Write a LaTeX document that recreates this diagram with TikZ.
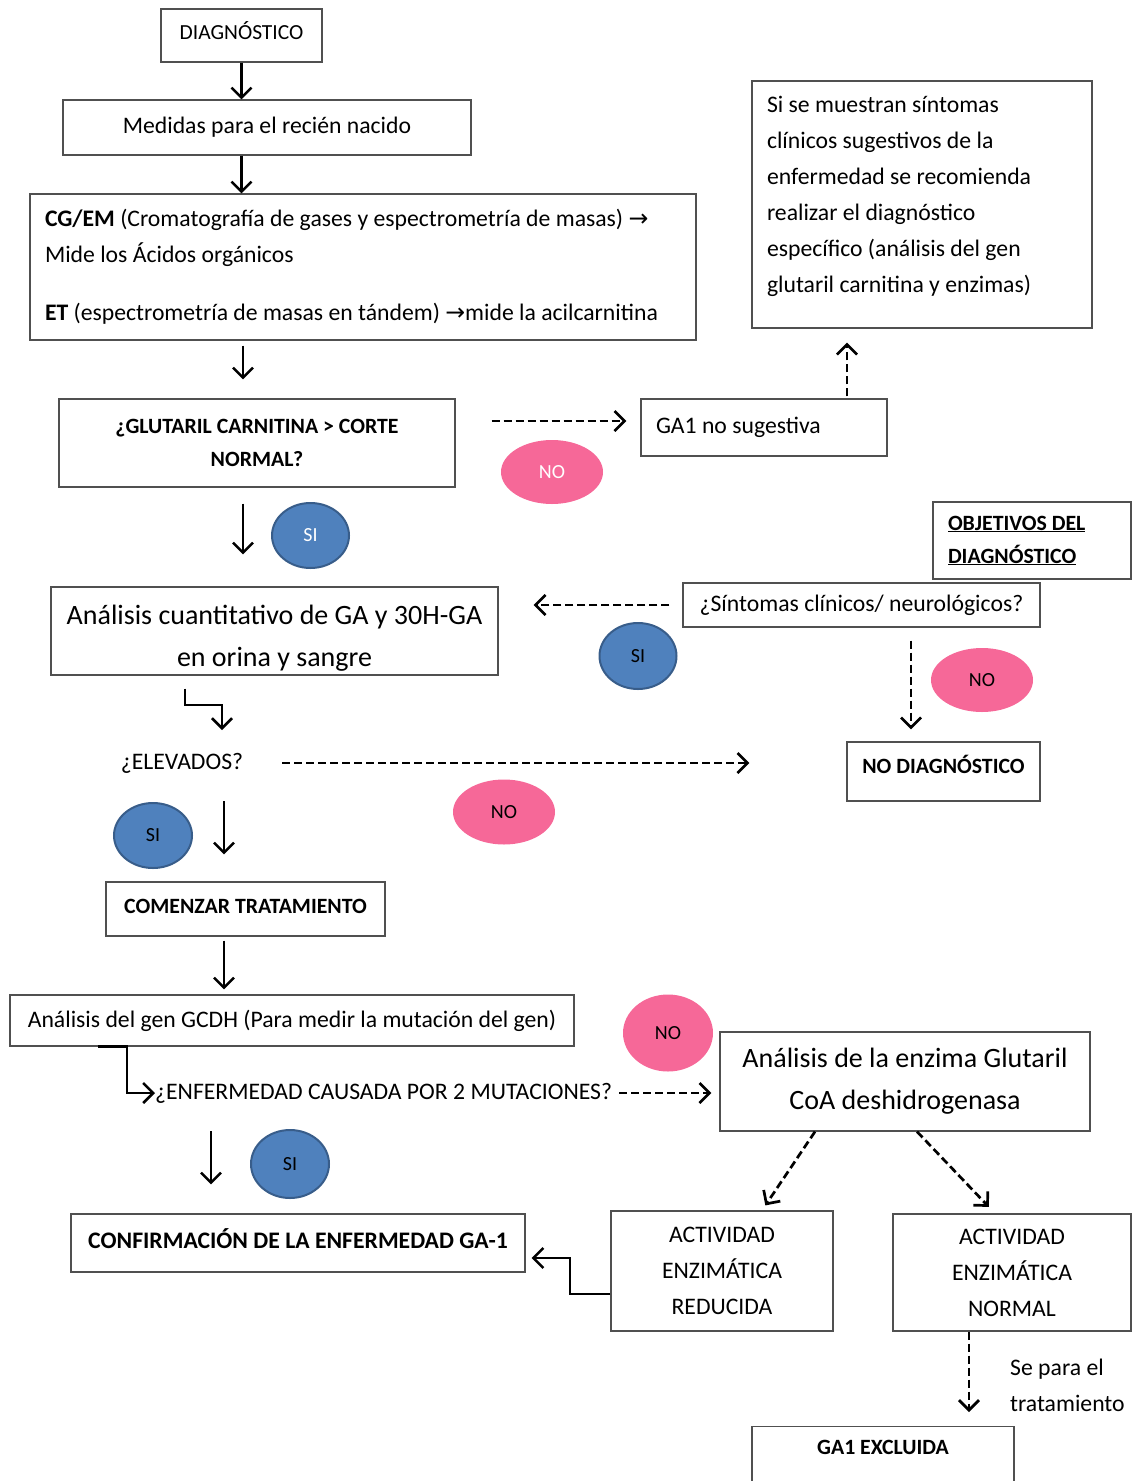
\documentclass[tikz,border=0pt]{standalone}
\usepackage{fontspec}
\setmainfont{Carlito}
\newfontfamily\arrowfont{DejaVu Sans}
\usetikzlibrary{arrows.meta,shapes.geometric}
\definecolor{siblue}{RGB}{79,129,189}
\definecolor{siedge}{RGB}{56,93,138}
\definecolor{nopink}{RGB}{246,104,152}
\definecolor{boxgray}{RGB}{80,80,80}
\begin{document}
\begin{tikzpicture}[x=1pt,y=-1pt,
  box/.style={draw=boxgray,line width=1.2pt,inner sep=0pt,align=center},
  lbox/.style={box,align=flush left,inner xsep=15pt},
  txt/.style={font=\fontsize{23.7}{36}\selectfont},
  small/.style={font=\fontsize{21.8}{33}\selectfont\bfseries},
  big/.style={font=\fontsize{28}{42}\selectfont},
  flow/.style={line width=2.5pt,-{Straight Barb[length=10pt,width=20pt]}},
  dflow/.style={flow,line width=2.7pt,dash pattern=on 8pt off 4pt},
  ball/.style={ellipse,inner sep=0pt,font=\fontsize{20}{20}\selectfont},
  siball/.style={ball,fill=siblue,draw=siedge,line width=2pt},
  noball/.style={ball,fill=nopink}]
\useasboundingbox (0,0) rectangle (1134,1481);

% upper column
\node[box,font=\fontsize{21.5}{33}\selectfont,minimum width=161pt,minimum height=53pt,text depth=10pt] (diag) at (241.5,35.5) {DIAGNÓSTICO};
\node[box,txt,minimum width=408pt,minimum height=55pt] (medidas) at (267,127.5) {Medidas para el recién nacido};
\node[lbox,txt,text width=636pt,minimum height=146pt] (cgem) at (363,267)
  {\textbf{CG/EM} (Cromatografía de gases y espectrometría de masas) {\arrowfont →}\\
   Mide los Ácidos orgánicos\\[22pt]
   \textbf{ET} (espectrometría de masas en tándem) {\arrowfont →}mide la acilcarnitina};
\node[box,small,minimum width=396pt,minimum height=88pt] (glut) at (257,443) {¿GLUTARIL CARNITINA > CORTE\\NORMAL?};
\node[lbox,txt,text width=216pt,minimum height=57pt] (gano) at (764,427.5) {GA1 no sugestiva};
\node[lbox,txt,text width=310pt,minimum height=247pt,text depth=201pt] (sintom) at (922,204.5)
  {Si se muestran síntomas\\clínicos sugestivos de la\\enfermedad se recomienda\\realizar el diagnóstico\\específico (análisis del gen\\glutaril carnitina y enzimas)};

\node[noball,text=white,minimum width=102pt,minimum height=64pt] (noA) at (552,472) {NO};
\node[siball,text=white,minimum width=77pt,minimum height=65pt] (siA) at (310.5,535.5) {SI};

% middle part
\node[lbox,small,text width=168pt,minimum height=77pt] (objet) at (1032,540.5) {\underline{OBJETIVOS DEL}\\\underline{DIAGNÓSTICO}};
\node[box,txt,minimum width=357pt,minimum height=44pt] (sint) at (861.5,605) {¿Síntomas clínicos/ neurológicos?};
\node[box,big,minimum width=447pt,minimum height=88pt] (cuant) at (274.5,631) {\rule{0pt}{33pt}Análisis cuantitativo de GA y 30H-GA\\en orina y sangre};
\node[siball,minimum width=77pt,minimum height=66pt] (siB) at (638,656) {SI};
\node[noball,minimum width=102pt,minimum height=64pt] (noB) at (982,680) {NO};
\node[box,small,minimum width=193pt,minimum height=59pt,text depth=14pt] (nodiag) at (943.5,771.5) {NO DIAGNÓSTICO};
\node[txt,inner sep=0pt] (elev) at (182,763) {¿ELEVADOS?};
\node[noball,minimum width=102pt,minimum height=65pt] (noC) at (504,812) {NO};
\node[siball,minimum width=78pt,minimum height=65pt] (siC) at (153,835.5) {SI};
\node[box,small,minimum width=279pt,minimum height=54pt,text depth=6pt] (comenz) at (245.5,909) {COMENZAR TRATAMIENTO};

% lower part
\node[box,txt,minimum width=564pt,minimum height=51pt] (gen) at (292,1020.5) {Análisis del gen GCDH (Para medir la mutación del gen)};
\node[txt,inner sep=0pt,anchor=west] (enferm) at (155,1093) {¿ENFERMEDAD CAUSADA POR 2 MUTACIONES?};
\node[noball,minimum width=90pt,minimum height=77pt] (noD) at (668,1033) {NO};
\node[box,big,minimum width=370pt,minimum height=99pt] (enzima) at (905,1081.5) {Análisis de la enzima Glutaril\\CoA deshidrogenasa};
\node[siball,minimum width=78pt,minimum height=68pt] (siD) at (290,1164) {SI};
\node[box,small,font=\fontsize{23.7}{33}\selectfont\bfseries,minimum width=454pt,minimum height=58pt,text depth=8pt] (confirm) at (298,1243) {CONFIRMACIÓN DE LA ENFERMEDAD GA-1};
\node[box,txt,minimum width=222pt,minimum height=120pt] (reduc) at (722,1271) {ACTIVIDAD\\ENZIMÁTICA\\REDUCIDA};
\node[box,txt,minimum width=238pt,minimum height=117pt] (normal) at (1012,1272.5) {ACTIVIDAD\\ENZIMÁTICA\\NORMAL};
\node[txt,inner sep=0pt,anchor=west,align=flush left] (stop) at (1010,1385.5) {Se para el\\tratamiento};
\node[box,small,anchor=north,minimum width=262pt,minimum height=110pt,text depth=68pt] (excl) at (883,1426) {GA1 EXCLUIDA};

% connectors
\draw[flow] (diag.south) -- (diag.south |- medidas.north);
\draw[flow] (diag.south |- medidas.south) -- (diag.south |- cgem.north);
\draw[flow,shorten <=5pt,shorten >=19pt] (243,0 |- cgem.south) -- (243,0 |- glut.north);
\draw[dflow,shorten <=36pt,shorten >=14pt] (glut.east |- 0,421) -- (gano.west |- 0,421);
\draw[dflow,shorten <=2pt,shorten >=14pt] (847,0 |- gano.north) -- (847,0 |- sintom.south);
\draw[flow,shorten <=16pt,shorten >=32pt] (243,0 |- glut.south) -- (243,0 |- cuant.north);
\draw[dflow,shorten <=13pt,shorten >=35pt] (sint.west) -- (sint.west -| cuant.east);
\draw[dflow,shorten <=13pt,shorten >=12pt] (911,0 |- sint.south) -- (911,0 |- nodiag.north);
\draw[flow,shorten <=13pt] (185,0 |- cuant.south) |- (222,705) -- (222,730);
\draw[dflow,shorten <=39pt,shorten >=97pt] (elev.east) -- (elev.east -| nodiag.west);
\draw[flow,shorten <=28pt,shorten >=27pt] (224,0 |- elev.south) -- (224,0 |- comenz.north);
\draw[flow,shorten <=4pt,shorten >=5pt] (224,0 |- comenz.south) -- (224,0 |- gen.north);
\draw[flow] (98,0 |- gen.south) -| (127,0 |- enferm.west) -- (enferm.west);
\draw[dflow,shorten <=7pt,shorten >=8pt] (enferm.east) -- (enferm.east -| enzima.west);
\draw[flow,shorten <=28pt,shorten >=29pt] (211,0 |- enferm.south) -- (211,0 |- confirm.north);
\draw[dflow,shorten >=6pt] (815,0 |- enzima.south) -- (762,0 |- reduc.north);
\draw[dflow,shorten >=9pt] (917,0 |- enzima.south) -- (995,0 |- normal.north);
\draw[flow,shorten >=6pt] (reduc.west |- 0,1294) -| (570,1258) -- (confirm.east |- 0,1258);
\draw[dflow,shorten >=14pt] (969,0 |- normal.south) -- (969,0 |- excl.north);
\end{tikzpicture}
\end{document}
